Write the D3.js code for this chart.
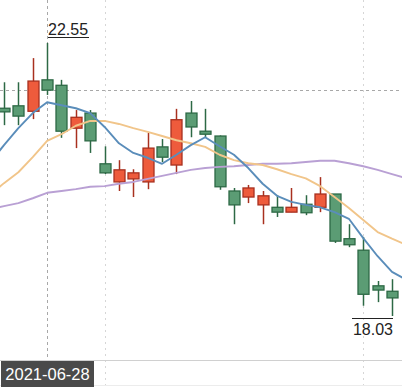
<!DOCTYPE html>
<html>
<head>
<meta charset="utf-8">
<script src="https://cdn.jsdelivr.net/npm/d3@7"></script>
<style>
html,body{margin:0;padding:0;background:#fff;overflow:hidden;}
svg{display:block;}
</style>
</head>
<body>
<svg id="chart" width="402" height="387"></svg>
<script>
// ---- data ----
const dates = ["2021-06-23","2021-06-24","2021-06-25","2021-06-28","2021-06-29","2021-06-30","2021-07-01","2021-07-02","2021-07-05","2021-07-06","2021-07-07","2021-07-08","2021-07-09","2021-07-12","2021-07-13","2021-07-14","2021-07-15","2021-07-16","2021-07-19","2021-07-20","2021-07-21","2021-07-22","2021-07-23","2021-07-26","2021-07-27","2021-07-28","2021-07-29","2021-07-30"];
const open  = [21.47,21.51,21.42,21.94,21.85,21.14,21.39,20.55,20.25,20.30,20.25,20.83,20.53,21.39,21.09,21.01,20.10,20.00,19.87,19.83,19.75,19.88,19.83,20.05,19.31,19.12,18.53,18.44];
const high  = [21.90,21.90,22.30,22.55,21.94,21.44,21.44,20.84,20.61,20.46,21.06,20.96,21.46,21.59,21.46,21.02,20.15,20.20,20.10,20.03,20.15,20.03,20.33,20.05,19.55,19.34,18.61,18.64];
const low   = [21.19,21.19,21.29,21.69,20.98,20.81,20.73,20.38,20.10,20.00,20.13,20.58,20.38,20.99,20.99,20.12,19.55,19.90,19.55,19.67,19.75,19.70,19.75,19.24,19.17,18.20,18.26,18.03];
const close = [21.41,21.34,21.92,21.77,21.09,21.32,20.93,20.40,20.45,20.40,20.81,20.66,21.28,21.16,21.04,20.17,19.87,20.15,20.02,19.75,19.83,19.74,20.05,19.27,19.21,18.39,18.46,18.33];
// moving averages: first value is the day before dates[0], last value the day after dates[27]
const ma5  = [20.56,20.86,21.14,21.39,21.57,21.52,21.47,21.39,21.16,20.89,20.73,20.65,20.55,20.70,20.86,20.99,20.84,20.70,20.48,20.22,20.02,19.92,19.87,19.83,19.75,19.64,19.32,19.02,18.76,18.63];
const ma10 = [20.03,20.23,20.41,20.66,20.93,21.04,21.18,21.26,21.26,21.21,21.14,21.08,21.01,20.94,20.89,20.83,20.70,20.61,20.56,20.53,20.46,20.38,20.31,20.18,20.00,19.82,19.62,19.42,19.31,19.21];
const ma20 = [19.79,19.85,19.90,19.98,20.07,20.10,20.13,20.17,20.18,20.22,20.25,20.30,20.35,20.40,20.45,20.48,20.50,20.51,20.53,20.55,20.55,20.56,20.58,20.60,20.60,20.56,20.51,20.45,20.38,20.31];
const gridDates = ["2021-07-02","2021-07-28"];
const crossDate = "2021-06-28";

// ---- chart ----
const W = 402, H = 387, plotBottom = 360;
const svg = d3.select("#chart");
const x = d3.scaleLinear().domain([0, dates.length - 1]).range([4, 392]);
const y = d3.scaleLinear().domain([17.302, 23.262]).range([plotBottom, 0]);

const upFill = "#ee5b3c", upStroke = "#a8301f";
const dnFill = "#5b9c74", dnStroke = "#2d6945";

// vertical grid lines
svg.selectAll(".grid").data(gridDates).join("line")
  .attr("x1", d => Math.round(x(dates.indexOf(d))) + 0.5)
  .attr("x2", d => Math.round(x(dates.indexOf(d))) + 0.5)
  .attr("y1", 0).attr("y2", H)
  .attr("stroke", "#d6d6d6").attr("stroke-dasharray", "2,4");

// x axis line
svg.append("line").attr("x1", 0).attr("x2", W).attr("y1", plotBottom + 0.5).attr("y2", plotBottom + 0.5)
  .attr("stroke", "#d0d0d0");
svg.append("line").attr("x1", 0).attr("x2", W).attr("y1", H - 1.5).attr("y2", H - 1.5)
  .attr("stroke", "#ececec");

const ci = dates.indexOf(crossDate);
// crosshair
svg.append("line").attr("x1", Math.round(x(ci)) + 0.5).attr("x2", Math.round(x(ci)) + 0.5)
  .attr("y1", 0).attr("y2", plotBottom)
  .attr("stroke", "#a8a8a8").attr("stroke-dasharray", "3,3");
svg.append("line").attr("x1", 0).attr("x2", W)
  .attr("y1", Math.round(y(close[ci])) + 0.5).attr("y2", Math.round(y(close[ci])) + 0.5)
  .attr("stroke", "#a8a8a8").attr("stroke-dasharray", "3,3");

// candles
const idx = d3.range(dates.length);
const g = svg.append("g");
const bw = 11;
g.selectAll(".wick").data(idx).join("line")
  .attr("x1", i => Math.round(x(i)) + 0.5).attr("x2", i => Math.round(x(i)) + 0.5)
  .attr("y1", i => y(high[i])).attr("y2", i => y(low[i]))
  .attr("stroke", i => close[i] >= open[i] ? upStroke : dnStroke).attr("stroke-width", 1.5);
g.selectAll(".body").data(idx).join("rect")
  .attr("x", i => Math.round(x(i)) + 0.5 - bw / 2)
  .attr("width", bw)
  .attr("y", i => y(Math.max(open[i], close[i])))
  .attr("height", i => Math.max(1, Math.abs(y(open[i]) - y(close[i]))))
  .attr("fill", i => close[i] >= open[i] ? upFill : dnFill)
  .attr("stroke", i => close[i] >= open[i] ? upStroke : dnStroke)
  .attr("stroke-width", 1.3);

// moving averages
const line = d3.line().x((d, i) => x(i - 1)).y(d => y(d)).curve(d3.curveLinear);
[[ma20, "#b9a0d4"], [ma10, "#f1c58a"], [ma5, "#5a8dba"]].forEach(([arr, c]) => {
  svg.append("path").datum(arr).attr("d", line).attr("fill", "none")
    .attr("stroke", c).attr("stroke-width", 1.9).attr("stroke-linejoin", "round");
});

// max / min markers
const hiI = d3.maxIndex(high), loI = d3.minIndex(low);
const hx = Math.round(x(hiI)), hy = y(high[hiI]);
svg.append("text").attr("x", hx + 1).attr("y", hy - 8).text(high[hiI].toFixed(2))
  .attr("font-family", "Liberation Sans, Arial, sans-serif").attr("font-size", 16).attr("fill", "#222");
svg.append("line").attr("x1", hx + 1).attr("x2", hx + 42).attr("y1", Math.round(hy - 6) + 0.5).attr("y2", Math.round(hy - 6) + 0.5)
  .attr("stroke", "#222");
const lx = Math.round(x(loI)), ly = y(low[loI]);
svg.append("line").attr("x1", lx - 40).attr("x2", lx + 1).attr("y1", Math.round(ly + 2) + 0.5).attr("y2", Math.round(ly + 2) + 0.5)
  .attr("stroke", "#222");
svg.append("text").attr("x", lx + 1).attr("y", ly + 19).attr("text-anchor", "end").text(low[loI].toFixed(2))
  .attr("font-family", "Liberation Sans, Arial, sans-serif").attr("font-size", 16).attr("fill", "#222");

// crosshair date label
const cx = Math.round(x(ci)) + 0.5;
svg.append("rect").attr("x", cx - 46.5).attr("y", plotBottom + 1).attr("width", 93).attr("height", H - plotBottom - 1)
  .attr("fill", "#4a4a4a");
svg.append("text").attr("x", cx).attr("y", plotBottom + 20).attr("text-anchor", "middle").text(crossDate)
  .attr("font-family", "Liberation Sans, Arial, sans-serif").attr("font-size", 16.5).attr("fill", "#fff");
</script>
</body>
</html>
